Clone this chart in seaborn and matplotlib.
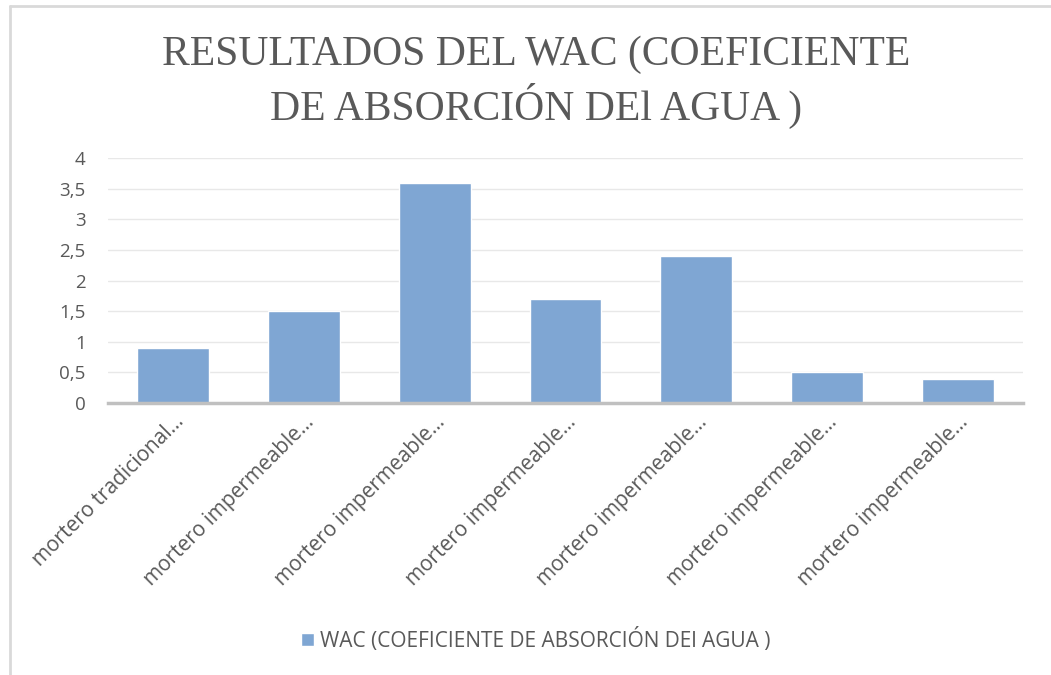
import matplotlib
matplotlib.use("Agg")
import matplotlib.pyplot as plt
import matplotlib.transforms as mtransforms
from matplotlib.lines import Line2D
import pandas as pd
import seaborn as sns

# datos del grafico
muestras = ["M1", "M2", "M3", "M4", "M5", "M6", "M7"]
etiquetas = [
    "mortero tradicional…",
    "mortero impermeable…",
    "mortero impermeable…",
    "mortero impermeable…",
    "mortero impermeable…",
    "mortero impermeable…",
    "mortero impermeable…",
]
wac = [0.9, 1.5, 3.6, 1.7, 2.4, 0.5, 0.4]
yticks = [0, 0.5, 1, 1.5, 2, 2.5, 3, 3.5, 4]
ytick_labels = ["0", "0,5", "1", "1,5", "2", "2,5", "3", "3,5", "4"]

serie = "WAC (COEFICIENTE DE ABSORCIÓN DEl AGUA )"
titulo = "RESULTADOS DEL WAC (COEFICIENTE\nDE ABSORCIÓN DEl AGUA )"

df = pd.DataFrame({"muestra": muestras, "wac": wac})

sns.set_theme(style="white")
plt.rcParams["font.family"] = ["Open Sans", "DejaVu Sans"]

TXT = "#595959"
BAR = "#7fa6d3"

fig = plt.figure(figsize=(10.51, 6.75), dpi=100)
ax = fig.add_axes([108 / 1051, 1 - 403 / 675, (1023 - 108) / 1051, (403 - 158) / 675])

sns.barplot(data=df, x="muestra", y="wac", color=BAR, saturation=1,
            width=0.55, label=serie, ax=ax)

ax.set_ylim(0, 4)
ax.set_xlim(-0.5, len(muestras) - 0.5)
ax.set_yticks(yticks)
ax.set_yticklabels(ytick_labels, fontsize=13.5, color=TXT)
ax.set_xticks(range(len(muestras)))
ax.set_xticklabels(etiquetas, fontsize=15, color=TXT, rotation=45,
                   ha="right", va="top", rotation_mode="anchor")
offset = mtransforms.ScaledTranslation(16 / 100, 0, fig.dpi_scale_trans)
for lbl in ax.get_xticklabels():
    lbl.set_transform(lbl.get_transform() + offset)
ax.set_xlabel("")
ax.set_ylabel("")
ax.tick_params(axis="y", length=0, pad=16)
ax.tick_params(axis="x", length=0, pad=6)

ax.grid(axis="y", color="#e8e8e8", linewidth=1)
ax.set_axisbelow(True)
for s in ["top", "right", "left"]:
    ax.spines[s].set_visible(False)
ax.spines["bottom"].set_color("#c0c0c0")
ax.spines["bottom"].set_linewidth(2.5)

fig.text(536 / 1051, 1 - 82 / 675, titulo, ha="center", va="center",
         fontsize=30, color=TXT, linespacing=1.25,
         family="Liberation Serif")

ax.legend(loc="center", bbox_to_anchor=(536 / 1051, 1 - 640 / 675),
          bbox_transform=fig.transFigure, frameon=False, fontsize=15,
          handlelength=0.6, handleheight=0.6, handletextpad=0.3,
          labelcolor=TXT)

# marco del grafico
fig.add_artist(Line2D([10 / 1051, 1], [1 - 6 / 675, 1 - 6 / 675],
                      transform=fig.transFigure, color="#d9d9d9", linewidth=2))
fig.add_artist(Line2D([10 / 1051, 10 / 1051], [0, 1 - 6 / 675],
                      transform=fig.transFigure, color="#d9d9d9", linewidth=2))

fig.savefig("out.png", dpi=100, facecolor="white")
